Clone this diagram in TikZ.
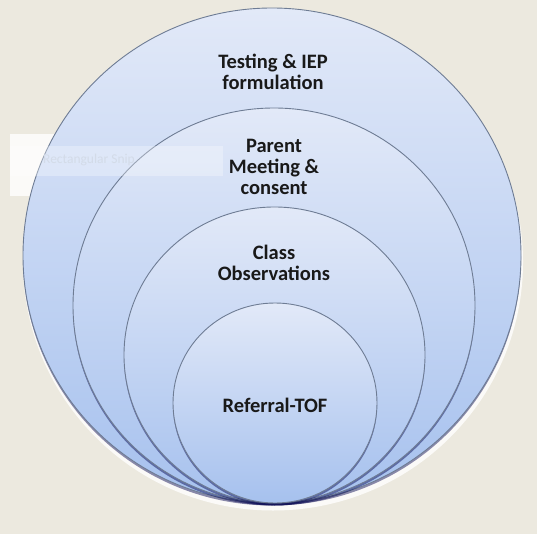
\documentclass[tikz,border=0pt]{standalone}
\usepackage{fontspec}
\setmainfont{Carlito}
\usetikzlibrary{shapes.geometric,shadows}
\definecolor{bg}{HTML}{ECE9DF}
\definecolor{ringtop}{HTML}{E2E9F8}
\definecolor{ringbot}{HTML}{A6C1EE}
\definecolor{ringline}{HTML}{6E7C94}
\definecolor{ghost}{HTML}{D3DBE8}
\tikzset{
  ring/.style={ellipse, draw=ringline, line width=0.9pt, inner sep=0pt,
    top color=ringtop, bottom color=ringbot,
    drop shadow={shadow xshift=0pt, shadow yshift=-2.5pt, opacity=0.45, fill=black!70!blue}},
  glow/.style={ellipse, fill=white, inner sep=0pt, opacity=0.8},
  lbl/.style={font=\bfseries\fontsize{20.5}{21}\selectfont, align=center, text=black!90, inner sep=0pt}
}
\begin{document}
\begin{tikzpicture}[x=1pt,y=-1pt]
  \fill[bg] (0,0) rectangle (537,534);
  \useasboundingbox (0,0) rectangle (537,534);
  \fill[white, opacity=0.8] (10,134) rectangle (60,196);
  \node[glow, minimum width=500pt, minimum height=497pt] (g) at (273,262) {};
  \node[ring, minimum width=498pt, minimum height=495pt] (r1) at (272,255.5) {};
  \node[ring, minimum width=402pt, minimum height=395pt] (r2) at (274,305.5) {};
  \node[ring, minimum width=301pt, minimum height=296pt] (r3) at (274.5,355) {};
  \node[ring, minimum width=204pt, minimum height=200pt] (r4) at (275,403) {};
  \fill[white, opacity=0.3] (10,146) rectangle (223,176);
  \node[font=\fontsize{13.5}{13.5}\selectfont, text=ghost, inner sep=0pt] (snip) at (89,160) {Rectangular Snip};
  \node[lbl] (t1) at (273,72) {Testing \& IEP\\formulation};
  \node[lbl] (t2) at (274,167) {Parent\\Meeting \&\\consent};
  \node[lbl] (t3) at (274,262.5) {Class\\Observations};
  \node[lbl] (t4) at (275,405) {Referral-TOF};
\end{tikzpicture}
\end{document}
